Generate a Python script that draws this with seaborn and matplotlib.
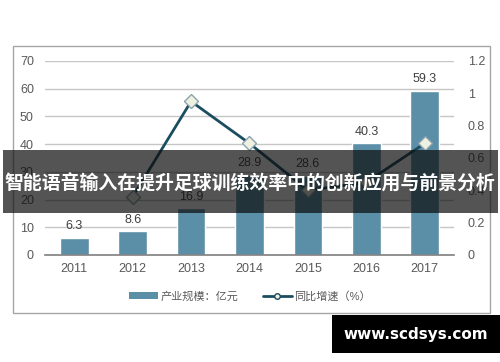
import numpy as np
import pandas as pd
import matplotlib
matplotlib.use("Agg")
import matplotlib.pyplot as plt
from matplotlib.patches import Rectangle
from matplotlib.lines import Line2D
from matplotlib.ticker import FuncFormatter
import seaborn as sns

years = ["2011", "2012", "2013", "2014", "2015", "2016", "2017"]
scale = [6.3, 8.6, 16.9, 28.9, 28.6, 40.3, 59.3]
growth = [np.nan, 0.36, 0.95, 0.69, 0.40, 0.45, 0.69]
left_ticks = [0, 10, 20, 30, 40, 50, 60, 70]
right_ticks = [0, 0.2, 0.4, 0.6, 0.8, 1.0, 1.2]
legend_labels = ["产业规模：亿元", "同比增速（%）"]
title = "智能语音输入在提升足球训练效率中的创新应用与前景分析"
watermark = "www.scdsys.com"

sns.set_theme(style="white")
plt.rcParams["font.family"] = ["Liberation Sans", "Noto Sans CJK SC", "DejaVu Sans"]

bar_color = "#5b8fa8"
line_color = "#1b4d61"
text_color = "#595959"

fig = plt.figure(figsize=(5.0, 3.62), dpi=100)
fig.patch.set_facecolor("white")
ax = fig.add_axes([0.09, 0.2956, 0.818, 0.536])

df = pd.DataFrame({"year": years, "scale": scale, "growth": growth})
df["pos"] = np.arange(len(years))

sns.barplot(data=df, x="year", y="scale", color=bar_color, saturation=1,
            width=0.49, ax=ax, zorder=2)
ax.set_xlim(-0.5, len(years) - 0.5)
ax.set_ylim(0, 70)
ax.set_yticks(left_ticks)
ax.yaxis.grid(True, color="#c6c6c6", linewidth=1.0, zorder=0)
ax.set_axisbelow(True)
for s in ["left", "right", "top"]:
    ax.spines[s].set_visible(False)
ax.spines["bottom"].set_color("#7f7f7f")
ax.spines["bottom"].set_linewidth(1.2)
ax.set_xlabel("")
ax.set_ylabel("")
ax.tick_params(axis="both", length=0, labelsize=9, colors=text_color)
ax.tick_params(axis="y", pad=8)
ax.tick_params(axis="x", pad=6)

for i, v in enumerate(scale):
    ax.text(i, v + 2.0, f"{v:g}", ha="center", va="bottom", fontsize=9,
            color="#404040", zorder=5)

ax2 = ax.twinx()
sns.lineplot(data=df, x="pos", y="growth", ax=ax2, color=line_color,
             linewidth=2.0, marker="D", markersize=7,
             markerfacecolor="#eef0e2", markeredgecolor="#8aa3ad",
             markeredgewidth=1.0, zorder=4)
ax2.set_ylim(0, 1.2)
ax2.set_yticks(right_ticks)
ax2.yaxis.set_major_formatter(FuncFormatter(lambda v, p: f"{v:g}"))
ax2.set_xlim(-0.5, len(years) - 0.5)
ax2.set_ylabel("")
ax2.set_xlabel("")
for s in ["left", "right", "top", "bottom"]:
    ax2.spines[s].set_visible(False)
ax2.tick_params(axis="y", length=0, labelsize=9, colors=text_color, pad=10)
ax2.grid(False)

# legend
handles = [
    Rectangle((0, 0), 1, 1, facecolor=bar_color, edgecolor="none"),
    Line2D([0], [0], color=line_color, linewidth=2.0, marker="o", markersize=4,
           markerfacecolor="#eef0e2", markeredgecolor=line_color),
]
fig.legend(handles, legend_labels, loc="center", bbox_to_anchor=(0.5, 0.182),
           ncol=2, frameon=False, fontsize=8, labelcolor=text_color,
           handlelength=2.6, handleheight=0.5, handletextpad=0.2,
           columnspacing=2.2)

# outer frame
fig.patches.append(Rectangle((0.026, 0.1354), 0.954, 0.7376, transform=fig.transFigure,
                             fill=False, edgecolor="#a6a6a6", linewidth=1.0, zorder=1))

# title banner
fig.patches.append(Rectangle((0.006, 1 - 213 / 362), 0.99, 63 / 362, transform=fig.transFigure,
                             facecolor="#0c0c0c", alpha=0.7, edgecolor="none", zorder=10))
fig.text(0.5, 1 - 184 / 362, title, ha="center", va="center", color="white",
         fontsize=13.6, fontweight="bold", family=["Noto Sans CJK SC", "DejaVu Sans"],
         zorder=11)

# watermark
fig.patches.append(Rectangle((332 / 500, 1 - 353 / 362), 168 / 500, 38 / 362,
                             transform=fig.transFigure, facecolor="black",
                             edgecolor="none", zorder=10))
fig.text(416 / 500, 1 - 334 / 362, watermark, ha="center", va="center", color="white",
         fontsize=11, fontweight="bold", family="DejaVu Sans", zorder=11)

fig.savefig("out.png", dpi=100)
